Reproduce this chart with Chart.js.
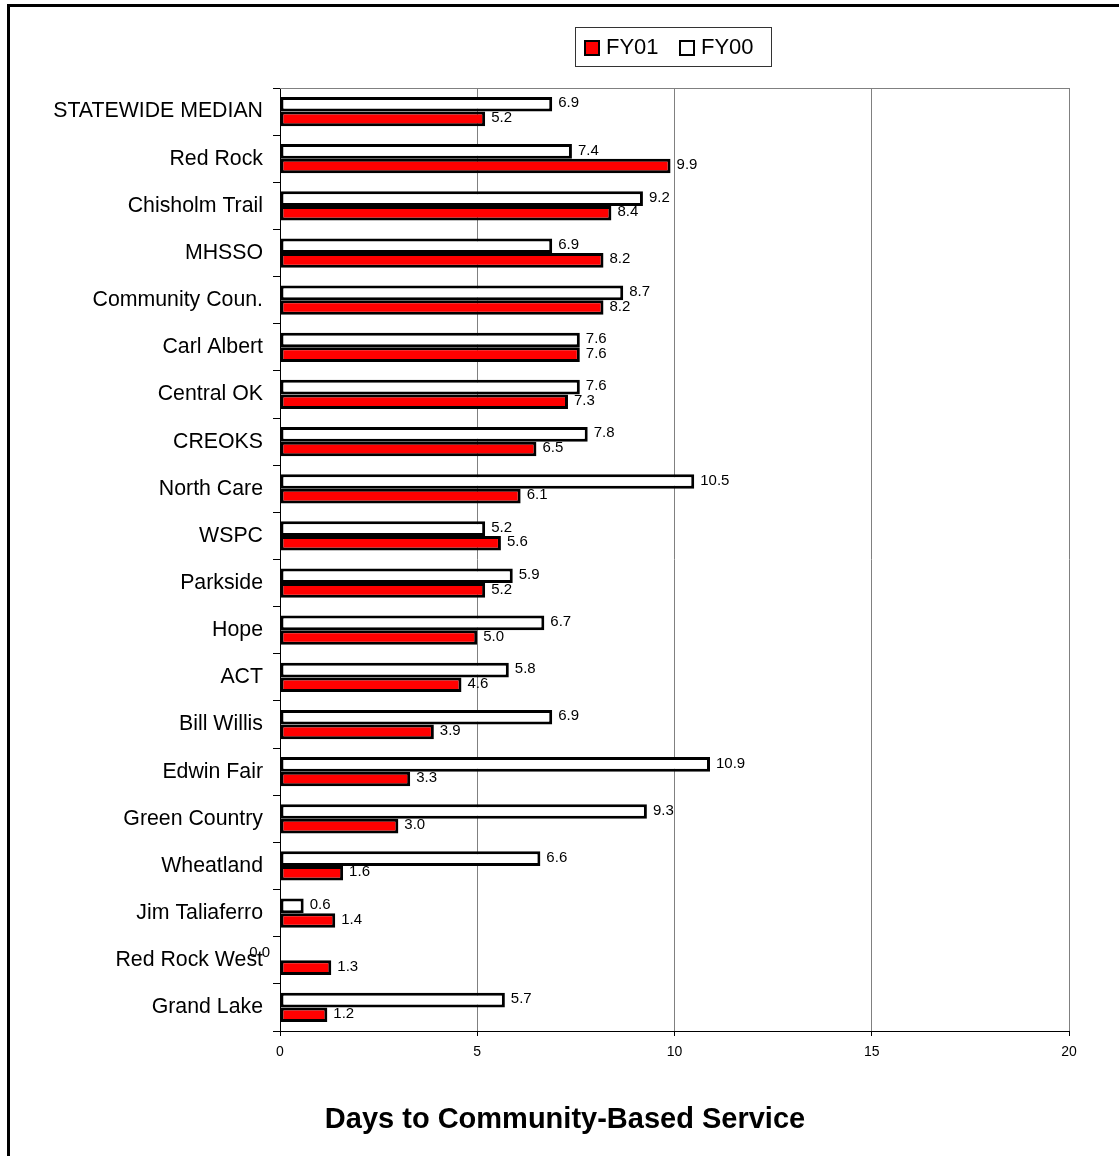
<!DOCTYPE html>
<html>
<head>
<meta charset="utf-8">
<script src="https://cdn.jsdelivr.net/npm/chart.js@4.4.1/dist/chart.umd.min.js"></script>
<style>
  html, body { margin: 0; padding: 0; background: #fff; }
  canvas { display: block; }
</style>
</head>
<body>
<canvas id="c" width="1119" height="1156"></canvas>
<script>
const categories = ["STATEWIDE MEDIAN", "Red Rock", "Chisholm Trail", "MHSSO", "Community Coun.", "Carl Albert", "Central OK", "CREOKS", "North Care", "WSPC", "Parkside", "Hope", "ACT", "Bill Willis", "Edwin Fair", "Green Country", "Wheatland", "Jim Taliaferro", "Red Rock West", "Grand Lake"];
const fy00 = [6.9, 7.4, 9.2, 6.9, 8.7, 7.6, 7.6, 7.8, 10.5, 5.2, 5.9, 6.7, 5.8, 6.9, 10.9, 9.3, 6.6, 0.6, 0.0, 5.7];
const fy01 = [5.2, 9.9, 8.4, 8.2, 8.2, 7.6, 7.3, 6.5, 6.1, 5.6, 5.2, 5.0, 4.6, 3.9, 3.3, 3.0, 1.6, 1.4, 1.3, 1.2];
const seriesNames = ["FY00", "FY01"];
const xTicks = [0, 5, 10, 15, 20];
const chartTitle = "Days to Community-Based Service";

const FONT = '"Liberation Sans", Arial, sans-serif';

const decorPlugin = {
  id: 'decor',
  afterDatasetsDraw(chart) {
    const ctx = chart.ctx;
    ctx.save();
    ctx.font = '15px ' + FONT;
    ctx.fillStyle = '#000';
    ctx.textBaseline = 'middle';
    chart.data.datasets.forEach((ds, di) => {
      const meta = chart.getDatasetMeta(di);
      meta.data.forEach((bar, i) => {
        const v = ds.data[i];
        const txt = v.toFixed(1);
        if (v === 0) {
          ctx.textAlign = 'right';
          ctx.fillText(txt, bar.base - 10, bar.y);
        } else {
          ctx.textAlign = 'left';
          ctx.fillText(txt, bar.x + 6, bar.y - 1);
        }
      });
    });
    ctx.restore();
  },
  afterDraw(chart) {
    const ctx = chart.ctx;
    const a = chart.chartArea;
    ctx.save();
    // plot top line
    ctx.strokeStyle = '#808080';
    ctx.lineWidth = 1;
    ctx.beginPath();
    ctx.moveTo(a.left, a.top + 0.5);
    ctx.lineTo(a.right, a.top + 0.5);
    ctx.stroke();
    // outer frame (top and left)
    ctx.fillStyle = '#000';
    ctx.fillRect(7, 4, 1112, 3);
    ctx.fillRect(7, 4, 3, 1152);
    // legend
    ctx.strokeStyle = '#333';
    ctx.lineWidth = 1;
    ctx.strokeRect(575.5, 27.5, 196, 39);
    const items = [
      { name: seriesNames[1], fill: '#ff0000', x: 584 },
      { name: seriesNames[0], fill: '#ffffff', x: 679 }
    ];
    ctx.font = '22px ' + FONT;
    ctx.textBaseline = 'middle';
    ctx.textAlign = 'left';
    items.forEach(it => {
      ctx.fillStyle = it.fill;
      ctx.fillRect(it.x, 40, 16, 16);
      ctx.strokeStyle = '#000';
      ctx.lineWidth = 2;
      ctx.strokeRect(it.x + 1, 41, 14, 14);
      ctx.fillStyle = '#000';
      ctx.fillText(it.name, it.x + 22, 48);
    });
    // title
    ctx.font = 'bold 29px ' + FONT;
    ctx.textAlign = 'center';
    ctx.fillStyle = '#000';
    ctx.fillText(chartTitle, 565, 1120);
    ctx.restore();
  }
};

new Chart(document.getElementById('c'), {
  type: 'bar',
  data: {
    labels: categories,
    datasets: [
      { label: seriesNames[0], data: fy00, backgroundColor: '#ffffff', borderColor: '#000', borderWidth: 3, borderSkipped: false },
      { label: seriesNames[1], data: fy01, backgroundColor: '#ff0000', borderColor: '#000', borderWidth: 3, borderSkipped: false }
    ]
  },
  options: {
    indexAxis: 'y',
    responsive: false,
    animation: false,
    devicePixelRatio: 1,
    categoryPercentage: 0.62,
    barPercentage: 1.0,
    layout: { padding: { top: 88, bottom: 85, left: 0, right: 50 } },
    plugins: {
      legend: { display: false },
      title: { display: false },
      tooltip: { enabled: false }
    },
    scales: {
      x: {
        min: 0, max: 20,
        afterBuildTicks(scale) { scale.ticks = xTicks.map(v => ({ value: v })); },
        afterFit(scale) { scale.height = 40; },
        ticks: { font: { family: FONT, size: 14 }, color: '#000', padding: 8 },
        grid: { color: '#808080', lineWidth: 1, tickColor: '#000', tickLength: 5 },
        border: { color: '#000', width: 1 }
      },
      y: {
        afterFit(scale) { scale.width = 280; },
        ticks: { font: { family: FONT, size: 21.3 }, color: '#000', padding: 10, autoSkip: false },
        grid: { offset: true, drawOnChartArea: false, tickLength: 7, tickColor: '#000', color: '#000' },
        border: { color: '#000', width: 1 }
      }
    }
  },
  plugins: [decorPlugin]
});
</script>
</body>
</html>
